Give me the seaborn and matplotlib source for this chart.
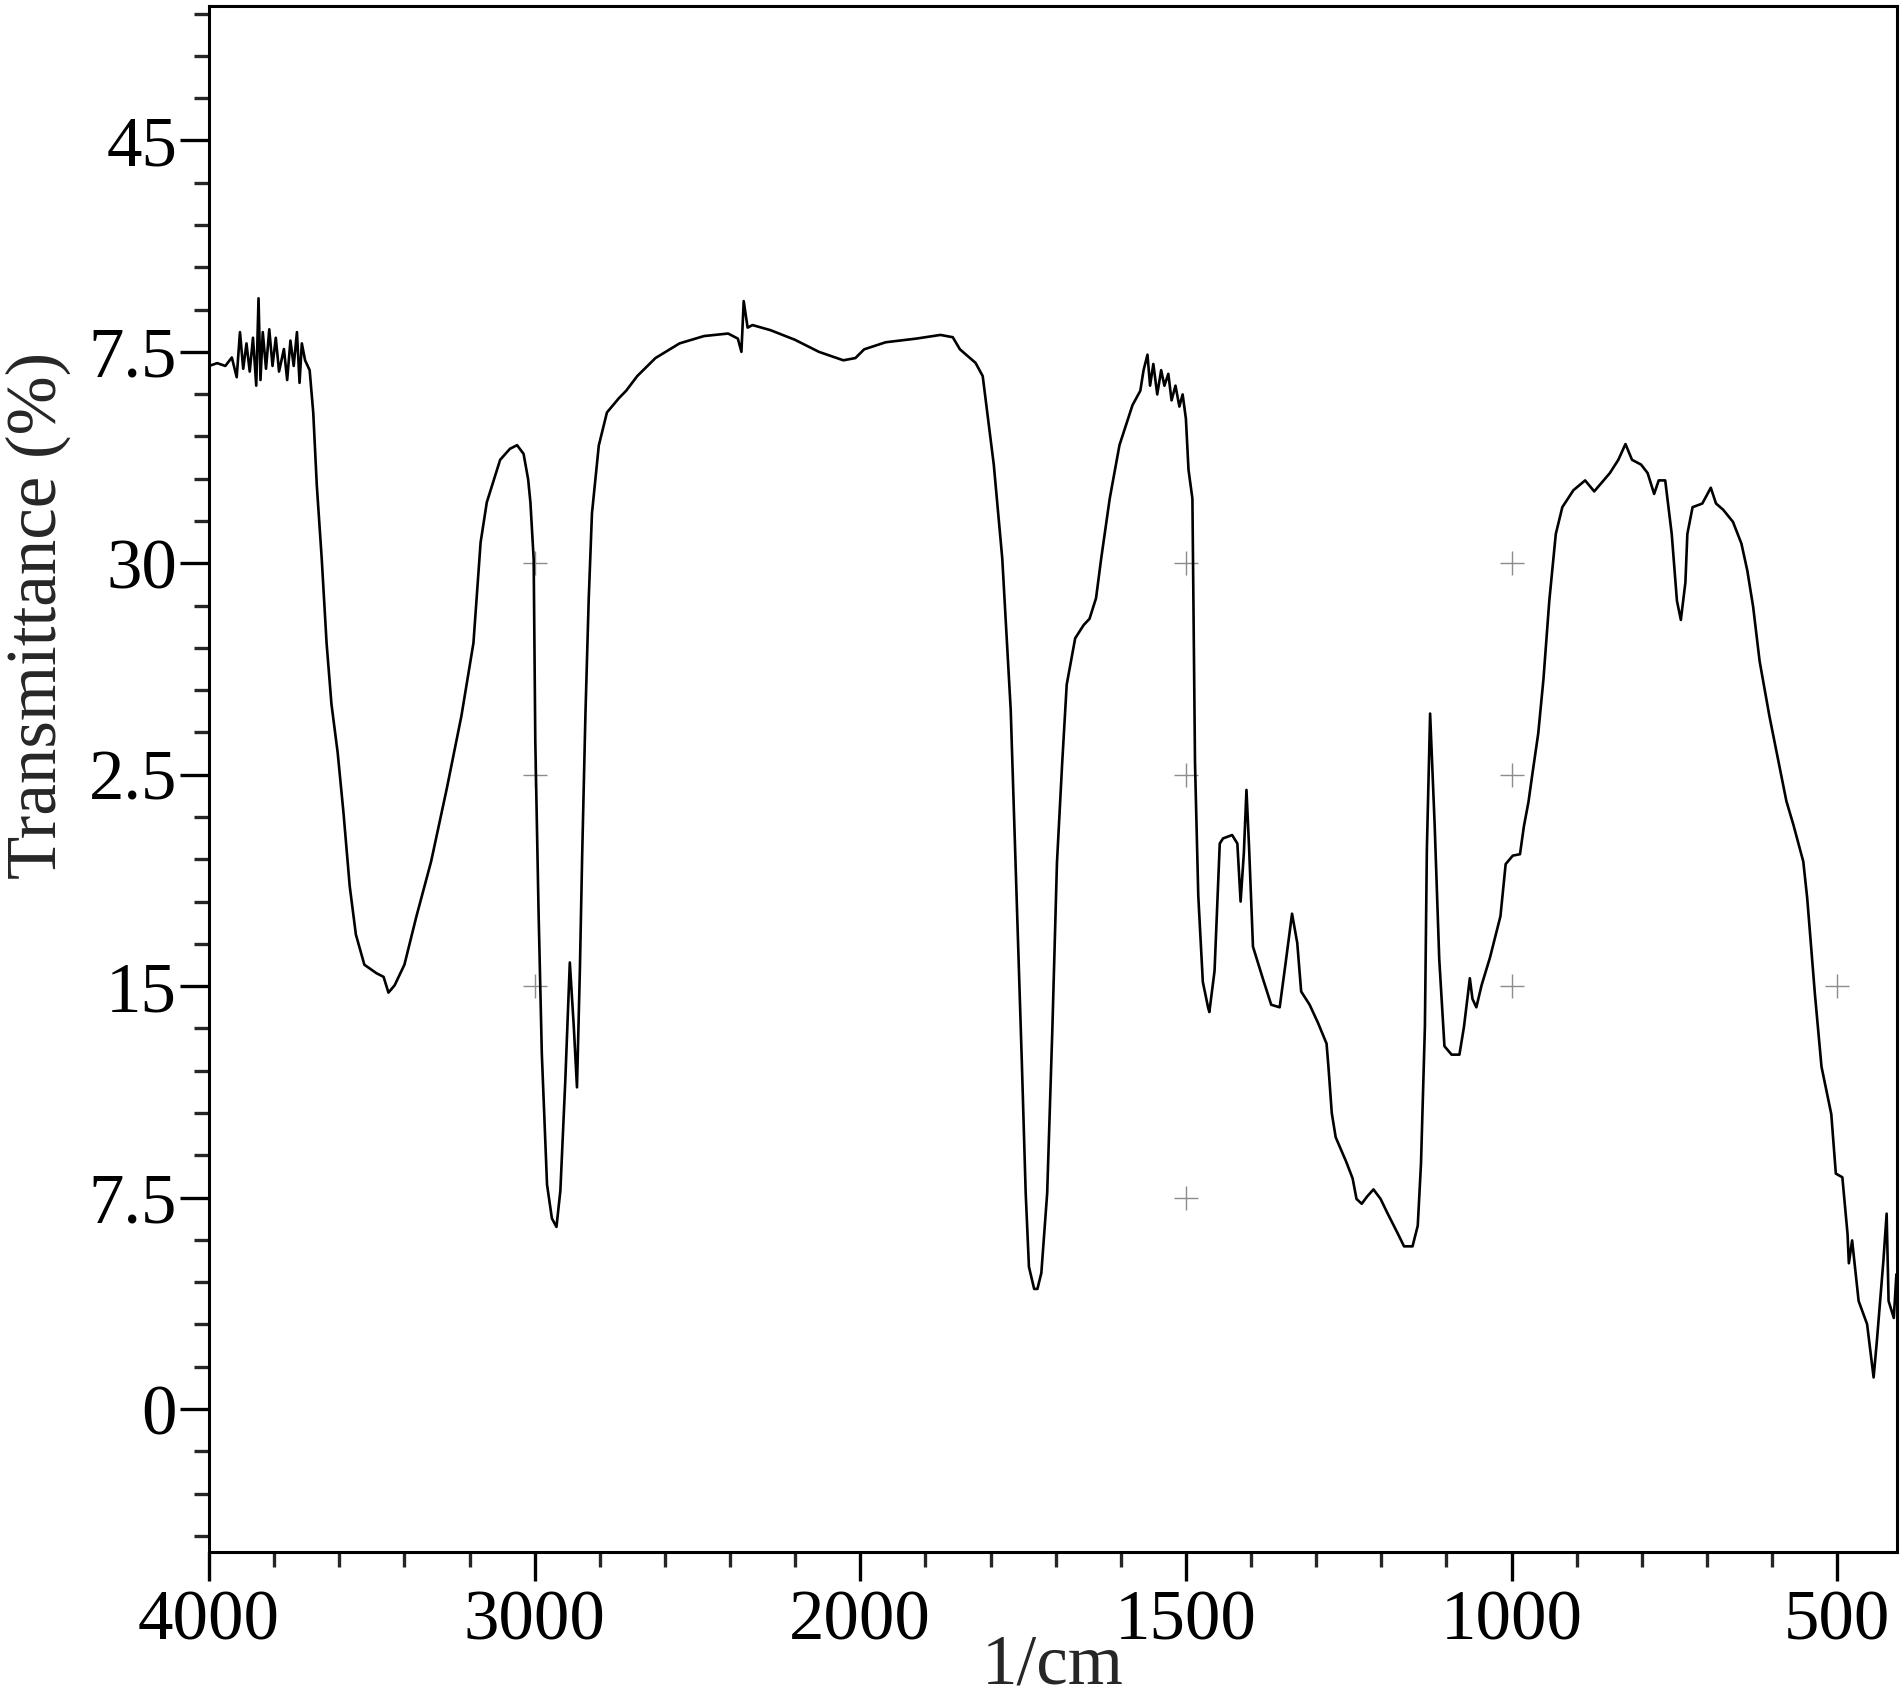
import numpy as np
import pandas as pd
import matplotlib
matplotlib.use("Agg")
import matplotlib.pyplot as plt
from matplotlib.ticker import FixedLocator
import seaborn as sns

# wavenumber (1/cm) and transmittance (%)
wavenumber = [
    4000, 3975, 3950, 3930, 3915, 3905, 3895, 3885, 3875, 3865, 3855, 3848, 3842,
    3835, 3825, 3815, 3805, 3795, 3785, 3770, 3760, 3750, 3740, 3730, 3722, 3715,
    3705, 3691, 3680, 3669, 3654, 3639, 3624, 3605, 3587, 3568, 3549, 3523, 3486,
    3464, 3449, 3430, 3400, 3363, 3318, 3270, 3225, 3188, 3166, 3147, 3106, 3076,
    3054, 3034, 3020, 3013, 3003, 2998, 2988, 2978, 2962, 2947, 2933, 2921, 2906,
    2892, 2880, 2870, 2861, 2854, 2844, 2834, 2824, 2803, 2778, 2741, 2719, 2685,
    2629, 2555, 2480, 2406, 2376, 2365, 2358, 2346, 2331, 2276, 2201, 2127, 2052,
    2015, 1994, 1961, 1914, 1877, 1858, 1847, 1823, 1812, 1795, 1782, 1769, 1760,
    1752, 1746, 1741, 1733, 1728, 1722, 1713, 1705, 1698, 1690, 1683, 1670, 1657,
    1648, 1638, 1630, 1617, 1602, 1582, 1570, 1565, 1559, 1555, 1550, 1544, 1538,
    1533, 1527, 1522, 1516, 1510, 1505, 1500, 1496, 1490, 1486, 1481, 1474, 1466,
    1464, 1456, 1448, 1443, 1429, 1421, 1416, 1411, 1407, 1403, 1397, 1382, 1369,
    1356, 1347, 1337, 1329, 1323, 1310, 1297, 1284, 1281, 1276, 1270, 1254, 1244,
    1238, 1230, 1222, 1212, 1201, 1191, 1175, 1165, 1152, 1144, 1139, 1133, 1130,
    1125, 1118, 1111, 1103, 1092, 1080, 1073, 1064, 1060, 1054, 1046, 1033, 1017,
    1009, 998, 987, 981, 974, 968, 959, 951, 942, 932, 922, 905, 887, 873, 862,
    849, 836, 825, 815, 801, 791, 781, 774, 764, 754, 746, 740, 733, 730, 722,
    707, 694, 686, 675, 660, 647, 638, 629, 619, 604, 591, 578, 567, 552, 546,
    534, 524, 516, 509, 502, 492, 484, 482, 477, 467, 454, 449, 444, 439, 429,
    424, 421, 413, 409, 406,
]
transmittance = [
    37.0, 37.1, 37.0, 37.3, 36.6, 38.2, 36.9, 37.8, 36.8, 38.0, 36.3, 39.4, 36.5,
    38.2, 36.9, 38.3, 37.0, 38.0, 36.8, 37.6, 36.5, 37.9, 37.0, 38.2, 36.4, 37.8,
    37.2, 36.85, 35.35, 32.76, 30.18, 27.17, 25.0, 23.29, 21.14, 18.55, 16.83, 15.76, 15.46,
    15.33, 14.77, 15.03, 15.76, 17.48, 19.42, 22.0, 24.58, 27.17, 30.74, 32.16, 33.67, 34.06,
    34.19, 33.88, 32.98, 32.16, 30.14, 23.68, 17.65, 12.61, 7.96, 6.76, 6.46, 7.75, 11.62,
    15.84, 13.6, 11.41, 15.63, 19.68, 24.67, 28.72, 31.77, 34.18, 35.35, 35.86, 36.12, 36.64,
    37.28, 37.8, 38.06, 38.15, 37.97, 37.5, 39.3, 38.36, 38.45, 38.27, 37.93, 37.5, 37.2,
    37.28, 37.59, 37.84, 37.97, 38.1, 38.02, 37.59, 37.11, 36.64, 33.5, 30.18, 24.8, 18.21,
    12.36, 7.66, 5.04, 4.26, 4.26, 4.82, 7.66, 13.52, 19.37, 22.9, 25.7, 27.34, 27.81,
    28.03, 28.76, 30.18, 32.29, 34.19, 35.61, 36.12, 36.85, 37.4, 36.3, 37.07, 35.99, 36.85,
    36.3, 36.72, 35.78, 36.3, 35.56, 35.99, 35.13, 33.32, 32.29, 22.9, 18.21, 15.15, 14.25,
    14.08, 15.54, 20.06, 20.24, 20.36, 20.06, 18.0, 19.72, 21.96, 19.93, 16.4, 15.28, 14.34,
    14.25, 15.8, 17.57, 16.53, 14.81, 14.34, 13.69, 12.96, 12.1, 10.5, 9.64, 8.78, 8.18,
    7.45, 7.28, 7.53, 7.79, 7.45, 6.97, 6.24, 5.77, 5.77, 6.5, 8.7, 13.56, 19.85,
    24.67, 20.71, 15.97, 12.87, 12.57, 12.57, 13.56, 15.28, 14.55, 14.25, 15.03, 16.02, 17.48,
    19.33, 19.63, 19.68, 20.67, 21.53, 22.52, 23.96, 25.88, 28.67, 31.04, 31.99, 32.59, 32.94, 32.55, 32.85,
    33.2, 33.67, 34.23, 33.67, 33.5, 33.2, 32.46, 32.94, 32.94, 31.04, 28.67, 27.99, 29.32, 31.04, 31.99,
    32.12, 32.68, 32.12, 31.9, 31.47, 30.7, 29.75, 28.46, 26.52, 24.58, 23.08, 21.57, 20.71, 19.42, 18.13,
    14.68, 12.14, 11.24, 10.46, 8.35, 8.22, 6.2, 5.17, 5.98, 3.83, 3.01, 2.07, 1.12, 2.41, 5.25,
    6.93, 3.83, 3.23, 4.78, 3.14,
]

x_major = [4000, 3000, 2000, 1500, 1000, 500]
x_minor = [3800, 3600, 3400, 3200, 2800, 2600, 2400, 2200,
           1900, 1800, 1700, 1600, 1400, 1300, 1200, 1100,
           900, 800, 700, 600, 400]
y_major = [0, 7.5, 15, 22.5, 30, 37.5, 45]
y_labels = ["0", "7.5", "15", "2.5", "30", "7.5", "45"]
y_minor = [-4.5, -3.0, -1.5, 1.5, 3.0, 4.5, 6.0, 9.0, 10.5, 12.0, 13.5,
           16.5, 18.0, 19.5, 21.0, 24.0, 25.5, 27.0, 28.5, 31.5, 33.0, 34.5,
           36.0, 39.0, 40.5, 42.0, 43.5, 46.5, 48.0, 49.5]

# where faint grid crosses survive on the original trace
cross_x = [3000, 1500, 1000, 3000, 1500, 1000, 3000, 1000, 500, 1500]
cross_y = [30, 30, 30, 22.5, 22.5, 22.5, 15, 15, 15, 7.5]

df = pd.DataFrame({"wn": wavenumber, "T": transmittance})

sns.set_style("ticks")
plt.rcParams["font.family"] = ["Liberation Serif", "DejaVu Serif"]


def fwd(x):
    x = np.asarray(x, dtype=float)
    return np.where(x <= 2000, x, 2000 + (x - 2000) / 2)


def inv(u):
    u = np.asarray(u, dtype=float)
    return np.where(u <= 2000, u, 2000 + (u - 2000) * 2)


fig = plt.figure(figsize=(19.02, 17.0), dpi=100)
ax = fig.add_axes([0.1099, 0.0871, 0.8875, 0.9094])
ax.set_xscale("function", functions=(fwd, inv))

sns.lineplot(data=df, x="wn", y="T", sort=False, estimator=None,
             color="black", linewidth=1.9, ax=ax)

ax.scatter(cross_x, cross_y, marker="+", s=300, color="0.55",
           linewidths=1.0, zorder=1)

ax.set_xlim(4000, 408)
ax.set_ylim(-5.07, 49.77)

ax.xaxis.set_major_locator(FixedLocator(x_major))
ax.xaxis.set_minor_locator(FixedLocator(x_minor))
ax.set_xticklabels([str(v) for v in x_major])
ax.yaxis.set_major_locator(FixedLocator(y_major))
ax.yaxis.set_minor_locator(FixedLocator(y_minor))
ax.set_yticklabels(y_labels)

ax.tick_params(which="major", length=21, width=2.4, labelsize=51, pad=2,
               color="black", labelcolor="black", direction="out")
ax.tick_params(axis="x", which="major", pad=6)
ax.tick_params(which="minor", length=11, width=2.4, direction="out")

for s in ax.spines.values():
    s.set_linewidth(2.2)
    s.set_color("black")

ax.set_xlabel("1/cm", fontsize=51, va="baseline")
ax.set_ylabel("Transmittance (%)", fontsize=51)
ax.xaxis.set_label_coords(0.5, -0.0854)
ax.yaxis.set_label_coords(-0.082, 0.606)

fig.savefig("out.png", dpi=100)
plt.close(fig)
